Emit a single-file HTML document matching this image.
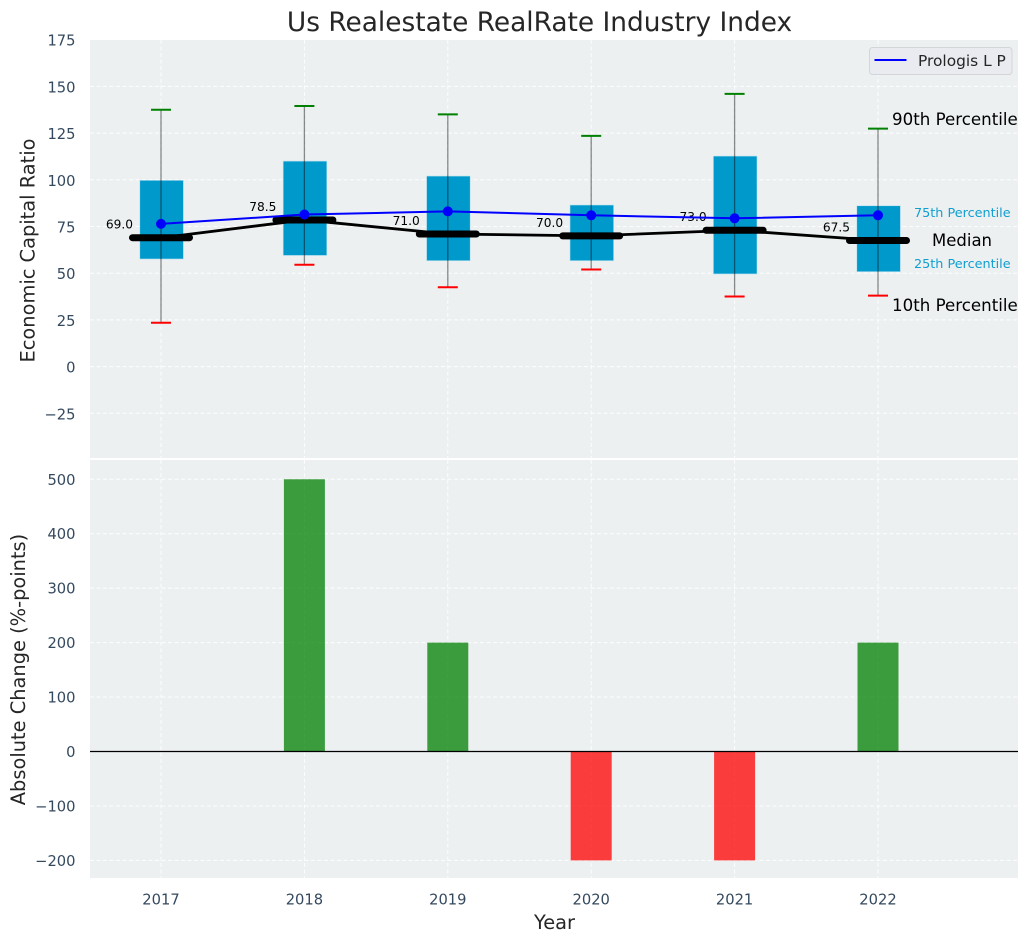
<!DOCTYPE html>
<html>
<head>
<meta charset="utf-8">
<title>Us Realestate RealRate Industry Index</title>
<style>
html,body{margin:0;padding:0;background:#fff;width:1029px;height:942px;overflow:hidden}
svg{display:block;font-family:"DejaVu Sans","Liberation Sans",sans-serif}
</style>
</head>
<body>
<svg id="chart" width="1029" height="942" viewBox="0 0 1029 942" xmlns="http://www.w3.org/2000/svg">
<text x="539.5" y="31" font-size="26.4" text-anchor="middle" fill="#262626">Us Realestate RealRate Industry Index</text>
<rect x="90" y="40" width="928" height="418" fill="#ecf0f1"/>
<rect x="90" y="460" width="928" height="418" fill="#ecf0f1"/>
<g id="grid"></g>
<g id="bars"></g>
<g id="boxes"></g>
<g id="lines"></g>
<g id="ticks"></g>
<text transform="translate(34.5,250.5) rotate(-90)" font-size="19.4" text-anchor="middle" fill="#262626">Economic Capital Ratio</text>
<text transform="translate(25,669.5) rotate(-90)" font-size="19.4" text-anchor="middle" fill="#262626">Absolute Change (%-points)</text>
<text x="554.5" y="929" font-size="19.4" text-anchor="middle" fill="#262626">Year</text>
<text x="892" y="125" font-size="16.67" fill="#000">90th Percentile</text>
<text x="892" y="311" font-size="16.67" fill="#000">10th Percentile</text>
<text x="932" y="246" font-size="16.5" fill="#000">Median</text>
<text x="914" y="217" font-size="12.8" fill="#0f9fd0">75th Percentile</text>
<text x="914" y="268" font-size="12.8" fill="#0f9fd0">25th Percentile</text>
<g>
<rect x="869.5" y="47.5" width="142.5" height="27" rx="3" fill="#e9ebf0" stroke="#d3d5d8" stroke-width="1"/>
<line x1="874.5" y1="60" x2="906.5" y2="60" stroke="#0000ff" stroke-width="2"/>
<text x="918" y="66" font-size="15.4" fill="#262626">Prologis L P</text>
</g>
</svg>
<script>
const years = ["2017", "2018", "2019", "2020", "2021", "2022"];
const p90 = [137.5, 139.5, 135, 123.5, 146, 127.4];
const p75 = [99.7, 110, 102, 86.5, 112.7, 86.1];
const medians = [69, 78.5, 71, 70, 73, 67.5];
const p25 = [57.6, 59.5, 56.7, 56.7, 49.6, 50.8];
const p10 = [23.5, 54.5, 42.5, 52, 37.5, 38];
const prologis = [76.4, 81.4, 83.1, 81, 79.4, 81];
const changes = [0, 500, 200, -200, -200, 200];
const topTicks = [175, 150, 125, 100, 75, 50, 25, 0, -25];
const bottomTicks = [500, 400, 300, 200, 100, 0, -100, -200];

const NS = 'http://www.w3.org/2000/svg';
const xPos = i => 161 + i * 143.4;
const yTop = v => 366.6 - v * 1.868;
const yBot = v => 751.5 - v * 0.5445;

function make(parent, tag, attrs, text) {
  const el = document.createElementNS(NS, tag);
  for (const k in attrs) el.setAttribute(k, attrs[k]);
  if (text !== undefined) el.textContent = text;
  document.getElementById(parent).appendChild(el);
  return el;
}
const minus = v => String(v).replace('-', '\u2212');
const gridStyle = {stroke: '#ffffff', 'stroke-width': 1, 'stroke-dasharray': '4 2.5', opacity: 0.9};

topTicks.forEach(v => {
  if (v !== 175) {
    const g = make('grid', 'line', {x1: 90, x2: 1018, y1: yTop(v), y2: yTop(v), ...gridStyle});
    
    
  }
  const t = make('ticks', 'text', {x: 75.5, y: yTop(v) + 6, 'font-size': 14.7, 'text-anchor': 'end', fill: '#34495e'}, minus(v));
  
  
});
bottomTicks.forEach(v => {
  const g = make('grid', 'line', {x1: 90, x2: 1018, y1: yBot(v), y2: yBot(v), ...gridStyle});
  
  
  const t = make('ticks', 'text', {x: 75.5, y: yBot(v) + 5.5, 'font-size': 14.7, 'text-anchor': 'end', fill: '#34495e'}, minus(v));
  
  
});
years.forEach((y, i) => {
  const x = xPos(i);
  const g1 = make('grid', 'line', {x1: x, x2: x, y1: 40, y2: 458, ...gridStyle});
  
  
  const g2 = make('grid', 'line', {x1: x, x2: x, y1: 460, y2: 878, ...gridStyle});
  
  
  const t = make('ticks', 'text', {x: x, y: 904.5, 'font-size': 14.7, 'text-anchor': 'middle', fill: '#34495e'}, y);
  
  
});

changes.forEach((v, i) => {
  if (v === 0) return;
  const y0 = yBot(Math.max(v, 0));
  const h = Math.abs(yBot(v) - yBot(0));
  const b = make('bars', 'rect', {x: xPos(i) - 20.5, y: y0, width: 41, height: h, fill: v > 0 ? '#008000' : '#ff0000', 'fill-opacity': 0.75});
  
  
});
const zero = make('bars', 'line', {x1: 90, x2: 1018, y1: yBot(0), y2: yBot(0), stroke: '#000', 'stroke-width': 1.2});



years.forEach((y, i) => {
  const x = xPos(i);
  const box = make('boxes', 'rect', {x: x - 21.2, y: yTop(p75[i]), width: 43.6, height: yTop(p25[i]) - yTop(p75[i]), fill: '#0099cc', stroke: '#b5dfee', 'stroke-width': 0.6});
  
  
  const w = make('boxes', 'line', {x1: x, x2: x, y1: yTop(p90[i]), y2: yTop(p10[i]), stroke: '#000', 'stroke-opacity': 0.45, 'stroke-width': 1.3});
  
  
  const c1 = make('boxes', 'line', {x1: x - 10, x2: x + 10, y1: yTop(p90[i]), y2: yTop(p90[i]), stroke: '#008000', 'stroke-width': 2});
  
  
  const c2 = make('boxes', 'line', {x1: x - 10, x2: x + 10, y1: yTop(p10[i]), y2: yTop(p10[i]), stroke: '#ff0000', 'stroke-width': 2});
  
  
});

const medianPath = make('lines', 'polyline', {points: medians.map((v, i) => xPos(i) + ',' + yTop(v)).join(' '), fill: 'none', stroke: '#000', 'stroke-width': 2.8});


medians.forEach((v, i) => {
  const x = xPos(i);
  const m = make('lines', 'line', {x1: x - 28.5, x2: x + 28.5, y1: yTop(v), y2: yTop(v), stroke: '#000', 'stroke-width': 7, 'stroke-linecap': 'round'});
  
  
  const t = make('lines', 'text', {x: x - 28, y: yTop(v) - 9, 'font-size': 12.2, 'text-anchor': 'end', fill: '#000'}, v.toFixed(1));
  
  
});
const bluePath = make('lines', 'polyline', {points: prologis.map((v, i) => xPos(i) + ',' + yTop(v)).join(' '), fill: 'none', stroke: '#0000ff', 'stroke-width': 2});


prologis.forEach((v, i) => {
  const p = make('lines', 'circle', {cx: xPos(i), cy: yTop(v), r: 5, fill: '#0000ff'});
  
  
});
</script>
</body>
</html>
